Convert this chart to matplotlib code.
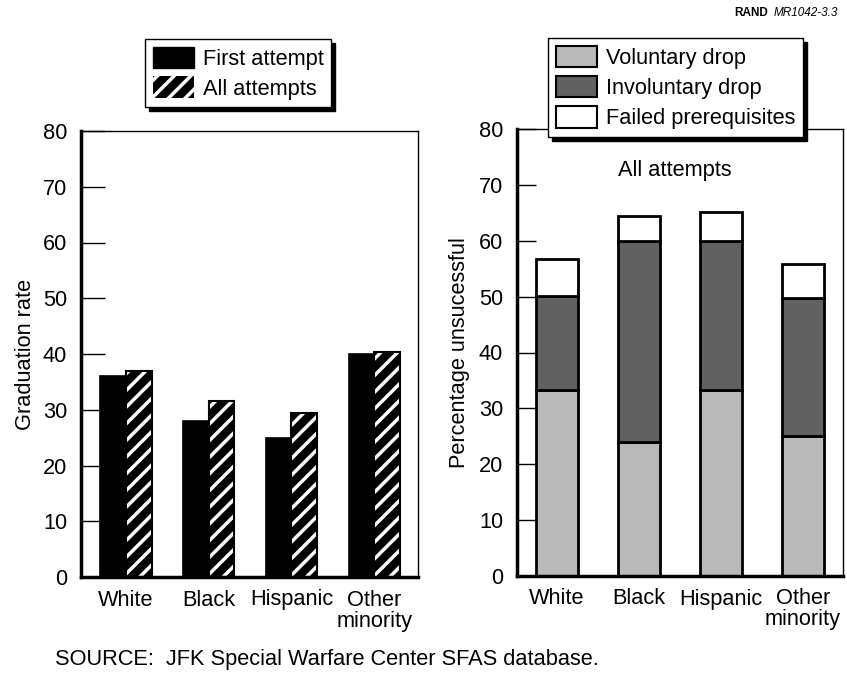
import matplotlib
matplotlib.use("Agg")
import matplotlib.pyplot as plt
from matplotlib.patches import Patch
import numpy as np

plt.rcParams['font.family'] = ['Liberation Sans', 'DejaVu Sans']
plt.rcParams['hatch.linewidth'] = 2.5

categories = ["White", "Black", "Hispanic", "Other\nminority"]
first_attempt = [36, 28, 25, 40]
all_attempts = [37, 31.5, 29.5, 40.3]

voluntary = [33.3, 24, 33.2, 25]
involuntary = [16.8, 36, 26.8, 24.8]
failed = [6.6, 4.5, 5.2, 6]

yticks = [0, 10, 20, 30, 40, 50, 60, 70, 80]

FS = 15.7
fig = plt.figure(figsize=(8.47, 6.77), dpi=100)

# Left chart
ax1 = fig.add_axes([81/847, 1-577/677, 337/847, 446/677])
x = np.arange(len(categories))
w = 0.31
ax1.bar(x - w/2, first_attempt, w, color='black', edgecolor='black', linewidth=1.2)
ax1.bar(x + w/2, all_attempts, w, color='black', edgecolor='white', hatch='//', linewidth=0)
ax1.bar(x + w/2, all_attempts, w, fill=False, edgecolor='black', linewidth=1.5)
ax1.set_xlim(-0.545, 3.53)
ax1.set_ylim(0, 80)
ax1.set_yticks(yticks)
ax1.set_xticks(x)
ax1.set_xticklabels(categories, fontsize=FS, linespacing=1.0)
ax1.tick_params(axis='y', direction='in', length=17, width=1, labelsize=FS, pad=10)
ax1.tick_params(axis='x', length=0, pad=9)
ax1.set_ylabel("Graduation rate", fontsize=FS, labelpad=5)
for s in ['left', 'bottom']:
    ax1.spines[s].set_linewidth(2.5)
for s in ['top', 'right']:
    ax1.spines[s].set_linewidth(1.0)

h1 = [Patch(facecolor='black', edgecolor='black'),
      Patch(facecolor='black', edgecolor='white', hatch='//', linewidth=0)]
leg1 = fig.legend(h1, ["First attempt", "All attempts"], loc='upper left',
                  bbox_to_anchor=(145/847, 1-39/677), fontsize=FS, frameon=True,
                  fancybox=False, edgecolor='black', framealpha=1,
                  shadow={'ox': 3, 'oy': -3, 'color': 'black', 'alpha': 1},
                  handlelength=1.9, handleheight=1.15, handletextpad=0.4,
                  borderpad=0.35, labelspacing=0.3, borderaxespad=0)
leg1.get_frame().set_linewidth(1.0)

# Right chart
ax2 = fig.add_axes([517/847, 1-576/677, 326/847, 447/677])
w2 = 0.52
c_vol = '#b9b9b9'
c_inv = '#616161'
ax2.bar(x, voluntary, w2, color=c_vol, edgecolor='black', linewidth=2)
ax2.bar(x, involuntary, w2, bottom=voluntary, color=c_inv, edgecolor='black', linewidth=2)
bottom3 = [a + b for a, b in zip(voluntary, involuntary)]
ax2.bar(x, failed, w2, bottom=bottom3, color='white', edgecolor='black', linewidth=2)
ax2.set_xlim(-0.49, 3.49)
ax2.set_ylim(0, 80)
ax2.set_yticks(yticks)
ax2.set_xticks(x)
ax2.set_xticklabels(categories, fontsize=FS, linespacing=1.0)
ax2.tick_params(axis='y', direction='in', length=14, width=1, labelsize=FS, pad=10)
ax2.tick_params(axis='x', length=0, pad=9)
ax2.set_ylabel("Percentage unsucessful", fontsize=FS, labelpad=6)
for s in ['left', 'bottom']:
    ax2.spines[s].set_linewidth(2.5)
for s in ['top', 'right']:
    ax2.spines[s].set_linewidth(1.0)
ax2.text(1.44, 72.6, "All attempts", fontsize=FS, ha='center', va='center')

h2 = [Patch(facecolor=c_vol, edgecolor='black', linewidth=1.5),
      Patch(facecolor=c_inv, edgecolor='black', linewidth=1.5),
      Patch(facecolor='white', edgecolor='black', linewidth=1.5)]
leg2 = fig.legend(h2, ["Voluntary drop", "Involuntary drop", "Failed prerequisites"],
                  loc='upper left', bbox_to_anchor=(548/847, 1-38/677), fontsize=FS,
                  frameon=True, fancybox=False, edgecolor='black', framealpha=1,
                  shadow={'ox': 3, 'oy': -3, 'color': 'black', 'alpha': 1},
                  handlelength=1.9, handleheight=1.15, handletextpad=0.4,
                  borderpad=0.35, labelspacing=0.32, borderaxespad=0)
leg2.get_frame().set_linewidth(1.0)
leg2.set_zorder(10)

rt = fig.text(838/847, 1-13/677, "MR1042-3.3", fontsize=8.5, style='italic', ha='right', va='center')
fig.canvas.draw()
bb = rt.get_window_extent()
fig.text((bb.x0 - 6)/847, 1-13/677, "RAND", fontsize=8.5, fontweight='bold', ha='right', va='center')

fig.text(55/847, 1-660/677, "SOURCE:  JFK Special Warfare Center SFAS database.", fontsize=FS,
         ha='left', va='center')

fig.savefig("out.png", dpi=100)
